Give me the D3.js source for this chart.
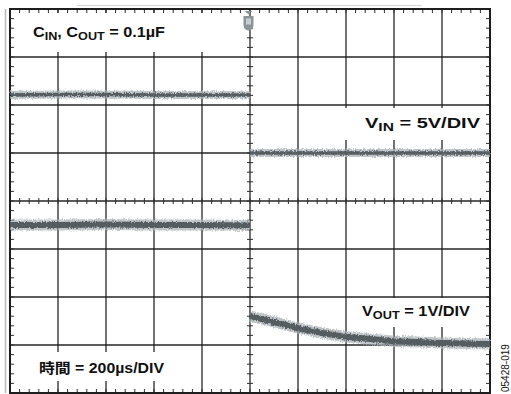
<!DOCTYPE html>
<html>
<head>
<meta charset="utf-8">
<script src="https://cdn.jsdelivr.net/npm/d3@7"></script>
<style>
  html, body { margin: 0; padding: 0; background: #fff; }
  svg { display: block; }
  text { font-family: "Liberation Sans", Arial, Helvetica, sans-serif; font-weight: bold; fill: #111; }
</style>
</head>
<body>
<svg id="chart" width="511" height="394"></svg>
<script>
// ---- data (time in divisions, amplitude in divisions from screen centre) ----
const tBefore    = [0, 1, 2, 3, 4, 5];
const vinBefore  = [2.21, 2.22, 2.22, 2.21, 2.21, 2.21];
const voutBefore = [-0.50, -0.50, -0.49, -0.50, -0.50, -0.51];
const tAfter     = [5, 5.5, 6, 6.5, 7, 7.5, 8, 8.5, 9, 9.5, 10];
const vinAfter   = [1.00, 1.00, 1.00, 1.00, 1.00, 1.00, 1.00, 1.00, 1.00, 1.00, 1.00];
const voutAfter  = [-2.40, -2.52, -2.65, -2.75, -2.83, -2.875, -2.92, -2.94, -2.96, -2.97, -2.98];
const xDivs = [0, 1, 2, 3, 4, 5, 6, 7, 8, 9, 10];
const yDivs = [-4, -3, -2, -1, 0, 1, 2, 3, 4];
const labelCap  = ["C", "IN", ", C", "OUT", " = 0.1µF"];
const labelVin  = ["V", "IN", " = 5V/DIV"];
const labelVout = ["V", "OUT", " = 1V/DIV"];
const labelTime = "時間 = 200µs/DIV";
const labelCode = "05428-019";

const svg = d3.select("#chart");
const x = d3.scaleLinear().domain([0, 10]).range([10, 490]);
const y = d3.scaleLinear().domain([-4, 4]).range([393, 9]);
const minorX = d3.range(0, 50.5, 1).map(i => i / 5);
const minorY = d3.range(0, 40.5, 1).map(i => i / 5 - 4);

// noise texture filter (rendering effect only)
const defs = svg.append("defs");
const f = defs.append("filter").attr("id", "noise")
  .attr("filterUnits", "userSpaceOnUse").attr("x", 0).attr("y", 0).attr("width", 511).attr("height", 394);
f.append("feTurbulence").attr("type", "fractalNoise").attr("baseFrequency", "0.9 0.6")
  .attr("numOctaves", 2).attr("seed", 4).attr("result", "n");
f.append("feDisplacementMap").attr("in", "SourceGraphic").attr("in2", "n")
  .attr("scale", 4).attr("xChannelSelector", "R").attr("yChannelSelector", "G");

// faint outer scan edges
svg.append("line").attr("x1", 77).attr("x2", 422).attr("y1", 5.5).attr("y2", 5.5)
  .attr("stroke", "#d4d4d4").attr("stroke-width", 1);
svg.append("line").attr("x1", 5.5).attr("x2", 5.5).attr("y1", 9).attr("y2", 393)
  .attr("stroke", "#b8b8b8").attr("stroke-width", 1.5);

// grid
const grid = svg.append("g").attr("stroke", "#262626").attr("stroke-width", 1.3);
grid.selectAll("line.v").data(xDivs.slice(1, -1)).join("line")
  .attr("x1", d => x(d)).attr("x2", d => x(d)).attr("y1", y(4)).attr("y2", y(-4));
grid.selectAll("line.h").data(yDivs.slice(1, -1)).join("line")
  .attr("y1", d => y(d)).attr("y2", d => y(d)).attr("x1", x(0)).attr("x2", x(10));

// white knock-out boxes behind labels
const boxes = [[14, 13, 215, 52], [340, 108, 486, 140], [350, 298, 487, 327], [28, 352, 178, 381]];
svg.append("g").selectAll("rect").data(boxes).join("rect")
  .attr("x", d => d[0]).attr("y", d => d[1]).attr("width", d => d[2] - d[0]).attr("height", d => d[3] - d[1])
  .attr("fill", "#fff");

// minor ticks
const tk = svg.append("g").attr("stroke", "#2e2e2e").attr("stroke-width", 1);
tk.selectAll("line.t").data(minorX).join("line")
  .attr("x1", d => x(d)).attr("x2", d => x(d)).attr("y1", y(4)).attr("y2", y(4) + 4);
tk.selectAll("line.b").data(minorX).join("line")
  .attr("x1", d => x(d)).attr("x2", d => x(d)).attr("y1", y(-4)).attr("y2", y(-4) - 4);
tk.selectAll("line.l").data(minorY).join("line")
  .attr("y1", d => y(d)).attr("y2", d => y(d)).attr("x1", x(0)).attr("x2", x(0) + 4);
tk.selectAll("line.r").data(minorY).join("line")
  .attr("y1", d => y(d)).attr("y2", d => y(d)).attr("x1", x(10)).attr("x2", x(10) - 4);
tk.selectAll("line.cx").data(minorX).join("line")
  .attr("x1", d => x(d)).attr("x2", d => x(d)).attr("y1", y(0) - 3).attr("y2", y(0) + 3);
tk.selectAll("line.cy").data(minorY).join("line")
  .attr("y1", d => y(d)).attr("y2", d => y(d)).attr("x1", x(5) - 3).attr("x2", x(5) + 3);

// frame
svg.append("rect").attr("x", x(0)).attr("y", y(4)).attr("width", x(10) - x(0)).attr("height", y(-4) - y(4))
  .attr("fill", "none").attr("stroke", "#1e1e1e").attr("stroke-width", 2);

// trigger marker
const mx = 248.5;
svg.append("path")
  .attr("d", `M${mx - 4},11 L${mx + 4},11 L${mx},14.5 Z`).attr("fill", "#8d959a");
svg.append("path")
  .attr("d", `M${mx - 5},16 L${mx + 5},16 L${mx + 5},25 Q${mx + 5},30 ${mx},30.5 Q${mx - 5},30 ${mx - 5},25 Z`)
  .attr("fill", "#8d959a");
svg.append("rect").attr("x", mx - 2.5).attr("y", 18.5).attr("width", 5).attr("height", 6).attr("fill", "#c9ced1");

// traces
const line = d3.line().x(d => x(d[0])).y(d => y(d[1]));
const traces = [
  { pts: d3.zip(tBefore, vinBefore), core: 3.5, band: 8 },
  { pts: d3.zip(tAfter, vinAfter), core: 3.5, band: 8 },
  { pts: d3.zip(tBefore, voutBefore), core: 6, band: 11 },
  { pts: d3.zip(tAfter, voutAfter), core: 6, band: 11 }
];
const tg = svg.append("g").attr("filter", "url(#noise)").attr("fill", "none");
traces.forEach(t => {
  tg.append("path").attr("d", line(t.pts)).attr("stroke", "#aab2b6").attr("stroke-width", t.band).attr("stroke-opacity", 0.75);
  tg.append("path").attr("d", line(t.pts)).attr("stroke", "#555d61").attr("stroke-width", t.core);
});

// labels
function subLabel(parts, px, py, len, fs) {
  const t = svg.append("text").attr("x", px).attr("y", py).attr("font-size", fs)
    .attr("textLength", len).attr("lengthAdjust", "spacingAndGlyphs");
  parts.forEach((p, i) => {
    const s = t.append("tspan").text(p);
    if (i % 2 === 1) s.attr("font-size", fs * 0.78).attr("dy", 3);
    else if (i > 0) s.attr("dy", -3);
  });
  return t;
}
subLabel(labelCap, 33, 37, 132, 14);
subLabel(labelVin, 365, 128, 115, 15);
subLabel(labelVout, 362, 316, 108, 14);
svg.append("text").attr("x", 39).attr("y", 373).attr("font-size", 14)
  .attr("textLength", 125).attr("lengthAdjust", "spacingAndGlyphs")
  .style("font-family", "'Liberation Sans', 'Noto Sans CJK JP', sans-serif").text(labelTime);
svg.append("text").attr("transform", "translate(509,392) rotate(-90)")
  .attr("font-size", 10).style("font-weight", "normal").text(labelCode);
</script>
</body>
</html>
